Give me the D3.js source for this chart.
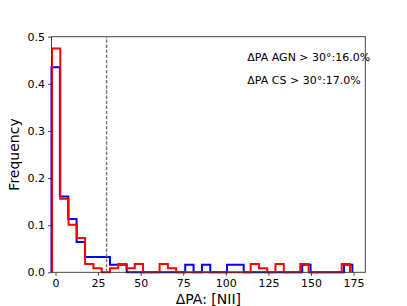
<!DOCTYPE html>
<html>
<head>
<meta charset="utf-8">
<script src="https://cdn.jsdelivr.net/npm/d3@7"></script>
<style>
  html, body { margin: 0; padding: 0; background: #fff; }
  svg { display: block; font-family: "DejaVu Sans", sans-serif; }
</style>
</head>
<body>
<svg id="chart" width="407" height="306"></svg>
<script>
// ---- data ----
const blueBinStart = -2.35, blueBinWidth = 4.907;   // AGN histogram bins (36)
const redBinStart = -2.05, redBinWidth = 4.86;      // CS histogram bins (36)
const blueValues = [0.435, 0.161, 0.113, 0.0645, 0.0323, 0.0323, 0.0323, 0.0161, 0.0161, 0,
                    0, 0, 0, 0, 0, 0, 0.0161, 0, 0.0161, 0,
                    0, 0.0161, 0.0161, 0, 0, 0, 0, 0, 0, 0,
                    0.0161, 0, 0, 0, 0, 0.0161];
const redValues = [0.475, 0.156, 0.101, 0.073, 0.0176, 0.0088, 0, 0.0088, 0.0176, 0.0088,
                   0.0176, 0, 0, 0.0176, 0.0088, 0, 0, 0, 0, 0,
                   0, 0, 0, 0, 0.0176, 0.0088, 0, 0.0176, 0, 0,
                   0.0176, 0, 0, 0, 0, 0.0176];
const xTicks = [0, 25, 50, 75, 100, 125, 150, 175];
const yTicks = [0.0, 0.1, 0.2, 0.3, 0.4, 0.5];
const thresholdValue = 30;
const annotations = ["ΔPA AGN > 30°:16.0%", "ΔPA CS > 30°:17.0%"];
const xLabel = "ΔPA: [NII]";
const yLabel = "Frequency";

// ---- layout ----
const W = 407, H = 306;
const plot = { left: 51.5, right: 365.3, top: 36.7, bottom: 272.3 };

const svg = d3.select("#chart");
const x = d3.scaleLinear().domain([-2.35, 181.9]).range([plot.left, plot.right]);
const y = d3.scaleLinear().domain([0, 0.5]).range([plot.bottom, plot.top]);

function stepPoints(start, width, vals) {
  const pts = [[start, 0]];
  vals.forEach((v, i) => {
    pts.push([start + i * width, v]);
    pts.push([start + (i + 1) * width, v]);
  });
  pts.push([start + vals.length * width, 0]);
  return pts;
}
const line = d3.line().x(d => x(d[0])).y(d => y(d[1]));

// histograms
svg.append("path")
  .attr("d", line(stepPoints(blueBinStart, blueBinWidth, blueValues)))
  .attr("fill", "none").attr("stroke", "#0000ff").attr("stroke-width", 2)
  .attr("stroke-linejoin", "miter");
svg.append("path")
  .attr("d", line(stepPoints(redBinStart, redBinWidth, redValues)))
  .attr("fill", "none").attr("stroke", "#ff0000").attr("stroke-width", 2)
  .attr("stroke-linejoin", "miter");

// threshold dashed line
svg.append("line")
  .attr("x1", x(thresholdValue)).attr("x2", x(thresholdValue))
  .attr("y1", y(0)).attr("y2", y(0.5))
  .attr("stroke", "#777").attr("stroke-width", 1.4)
  .attr("stroke-dasharray", "3.5,1.6");

// axes
const xAxis = d3.axisBottom(x).tickValues(xTicks).tickFormat(d3.format("d")).tickSizeOuter(0).tickSize(3.5).tickPadding(3);
const yAxis = d3.axisLeft(y).tickValues(yTicks).tickFormat(d3.format(".1f")).tickSizeOuter(0).tickSize(3.5).tickPadding(3);

const gx = svg.append("g").attr("transform", `translate(0,${plot.bottom})`).call(xAxis);
const gy = svg.append("g").attr("transform", `translate(${plot.left},0)`).call(yAxis);
[gx, gy].forEach(g => {
  g.select(".domain").remove();
  g.selectAll("line").attr("stroke", "#333").attr("stroke-width", 0.9);
  g.selectAll("text").attr("font-family", "DejaVu Sans").attr("font-size", 11).attr("fill", "#000");
});

// frame
svg.append("rect")
  .attr("x", plot.left).attr("y", plot.top)
  .attr("width", plot.right - plot.left).attr("height", plot.bottom - plot.top)
  .attr("fill", "none").attr("stroke", "#333").attr("stroke-width", 0.9);

// annotations
svg.append("text").attr("x", 247.3).attr("y", 61)
  .attr("font-size", 11).attr("fill", "#000").text(annotations[0]);
svg.append("text").attr("x", 247.3).attr("y", 83.5)
  .attr("font-size", 11).attr("fill", "#000").text(annotations[1]);

// axis labels
svg.append("text").attr("x", (plot.left + plot.right) / 2).attr("y", 303.5)
  .attr("text-anchor", "middle").attr("font-size", 14).attr("fill", "#000").text(xLabel);
svg.append("text")
  .attr("transform", `translate(18.5,${(plot.top + plot.bottom) / 2}) rotate(-90)`)
  .attr("text-anchor", "middle").attr("font-size", 14).attr("fill", "#000").text(yLabel);
</script>
</body>
</html>
